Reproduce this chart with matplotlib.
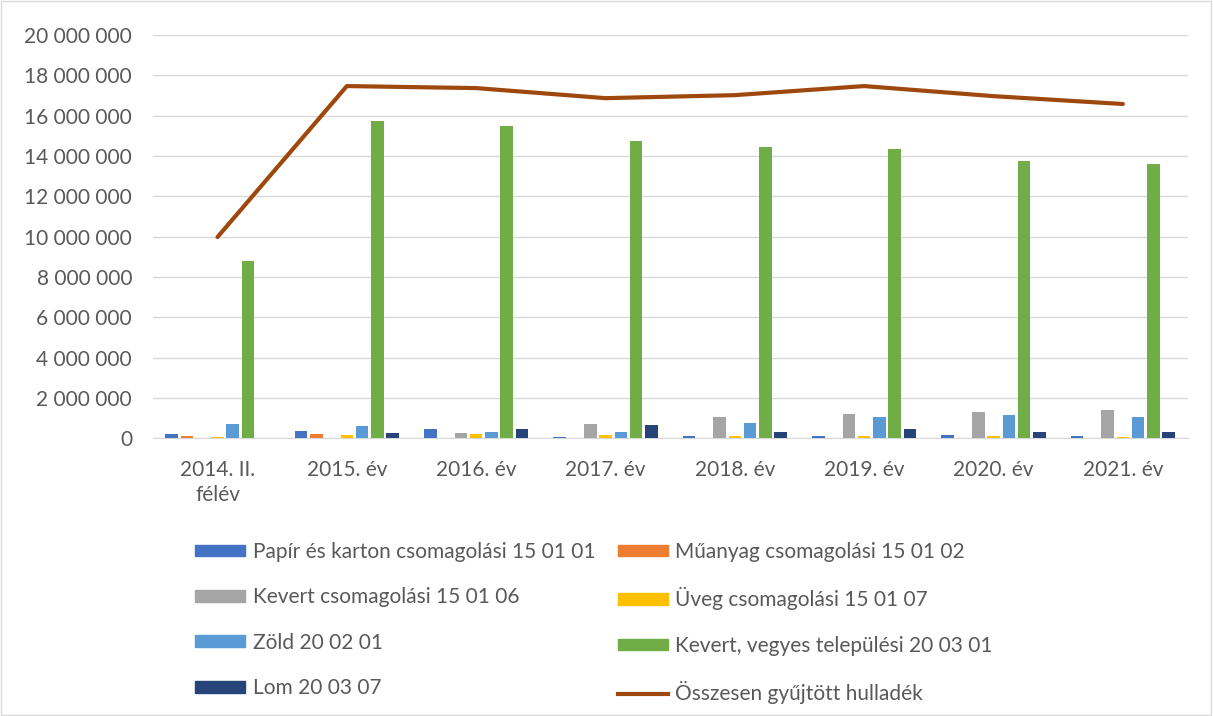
import numpy as np
import matplotlib.pyplot as plt
from matplotlib.lines import Line2D
from matplotlib.patches import Patch, Rectangle

plt.rcParams['font.family'] = ['Lato', 'DejaVu Sans']

categories = ['2014. II.\nfélév', '2015. év', '2016. év', '2017. év',
              '2018. év', '2019. év', '2020. év', '2021. év']

series_names = ['Papír és karton csomagolási 15 01 01',
                'Műanyag csomagolási 15 01 02',
                'Kevert csomagolási 15 01 06',
                'Üveg csomagolási 15 01 07',
                'Zöld 20 02 01',
                'Kevert, vegyes települési 20 03 01',
                'Lom 20 03 07']

papir = [200000, 340000, 440000, 40000, 85000, 130000, 180000, 85000]
muanyag = [100000, 200000, 0, 0, 0, 0, 0, 0]
kevert_cs = [0, 0, 270000, 720000, 1070000, 1180000, 1310000, 1380000]
uveg = [70000, 170000, 220000, 180000, 130000, 90000, 90000, 60000]
zold = [680000, 610000, 290000, 300000, 770000, 1070000, 1160000, 1050000]
kevert_vegyes = [8780000, 15730000, 15480000, 14740000, 14440000, 14340000, 13750000, 13600000]
lom = [0, 270000, 440000, 670000, 300000, 470000, 320000, 290000]

total_name = 'Összesen gyűjtött hulladék'
osszesen = [9980000, 17470000, 17370000, 16870000, 17020000, 17470000, 16970000, 16580000]

colors = ['#4472C4', '#ED7D31', '#A5A5A5', '#FFC000', '#5B9BD5', '#70AD47', '#264478']
line_color = '#9E480E'

all_series = [papir, muanyag, kevert_cs, uveg, zold, kevert_vegyes, lom]

fig = plt.figure(figsize=(12.13, 7.16), dpi=100)
ax = fig.add_axes([0.126, 0.388, 0.853, 0.563])

x = np.arange(len(categories))
stride = 0.118
for i, (vals, c) in enumerate(zip(all_series, colors)):
    ax.bar(x + (i - 3) * stride, vals, width=0.097, color=c, zorder=3)

ax.plot(x, osszesen, color=line_color, linewidth=3, zorder=4,
        solid_capstyle='round')

ax.set_xlim(-0.5, len(categories) - 0.5)
ax.set_ylim(0, 20000000)
ax.set_yticks(np.arange(0, 20000001, 2000000))
ax.set_yticklabels([f'{v:,}'.replace(',', ' ') for v in range(0, 20000001, 2000000)])
ax.set_xticks(x)
ax.set_xticklabels(categories, linespacing=1.3)
ax.tick_params(axis='both', length=0, labelsize=15, colors='#595959')
ax.tick_params(axis='y', pad=15)
ax.tick_params(axis='x', pad=16)
ax.grid(axis='y', color='#D9D9D9', linewidth=1, zorder=0)
for s in ['top', 'right', 'left']:
    ax.spines[s].set_visible(False)
ax.spines['bottom'].set_color('#D9D9D9')

handles = [Patch(color=c) for c in colors] + [Line2D([], [], color=line_color, linewidth=3)]
labels = series_names + [total_name]
order = [0, 2, 4, 6, 1, 3, 5, 7]
fig.legend([handles[i] for i in order], [labels[i] for i in order],
           loc='upper left', bbox_to_anchor=(0.1455, 0.2694), ncol=2,
           frameon=False, fontsize=15, labelcolor='#595959',
           handlelength=2.4, handleheight=0.5, handletextpad=0.35,
           columnspacing=1.1, labelspacing=1.22)

fig.add_artist(Rectangle((0.001, 0.001), 0.997, 0.997, transform=fig.transFigure,
                         fill=False, edgecolor='#D9D9D9', linewidth=1))

fig.savefig('out.png', dpi=100)
